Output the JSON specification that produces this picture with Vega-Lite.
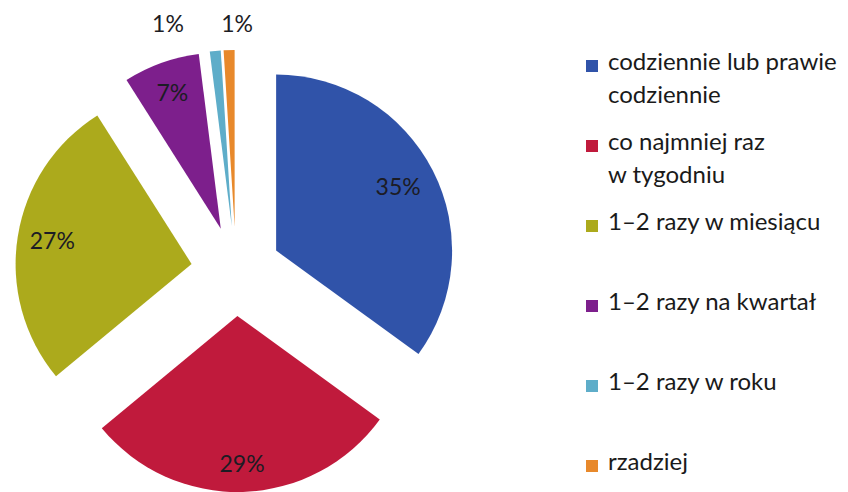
{
  "$schema": "https://vega.github.io/schema/vega-lite/v6.json",
  "width": 400,
  "height": 438,
  "autosize": {"type": "none"},
  "padding": {"left": 36, "top": 52, "right": 412, "bottom": 2},
  "background": "#ffffff",
  "config": {"view": {"stroke": null}, "font": "Lato"},
  "data": {
    "values": [
      {"order": 1, "cat": "codziennie lub prawie codziennie", "share": 0.35},
      {"order": 2, "cat": "co najmniej raz w tygodniu", "share": 0.29},
      {"order": 3, "cat": "1–2 razy w miesiącu", "share": 0.27},
      {"order": 4, "cat": "1–2 razy na kwartał", "share": 0.07},
      {"order": 5, "cat": "1–2 razy w roku", "share": 0.01},
      {"order": 6, "cat": "rzadziej", "share": 0.01}
    ]
  },
  "encoding": {
    "theta": {"field": "share", "type": "quantitative", "stack": true},
    "order": {"field": "order", "type": "quantitative"},
    "color": {
      "field": "cat",
      "type": "nominal",
      "scale": {
        "domain": ["codziennie lub prawie codziennie", "co najmniej raz w tygodniu", "1–2 razy w miesiącu", "1–2 razy na kwartał", "1–2 razy w roku", "rzadziej"],
        "range": ["#3053A9", "#C01A3C", "#ACAA1C", "#7D1F8C", "#5EADC9", "#E8892B"]
      },
      "legend": {
        "title": null,
        "orient": "right",
        "offset": 142,
        "padding": 2,
        "symbolType": "square",
        "symbolSize": 144,
        "symbolStrokeWidth": 0,
        "symbolOpacity": 1,
        "labelFont": "Lato",
        "labelFontSize": 24,
        "labelColor": "#1a1a1a",
        "labelOffset": 4,
        "labelLimit": 400,
        "labelBaseline": "top",
        "gridAlign": "all",
        "rowPadding": 23,
        "labelExpr": "datum.label == 'codziennie lub prawie codziennie' ? ['codziennie lub prawie', 'codziennie'] : datum.label == 'co najmniej raz w tygodniu' ? ['co najmniej raz', 'w tygodniu'] : datum.label",
        "encode": {"labels": {"update": {"lineHeight": {"value": 33}, "dy": {"value": -15}}}}
      }
    }
  },
  "layer": [
    {
      "layer": [
        {"mark": {"type": "arc", "outerRadius": 176, "xOffset": 40.1, "yOffset": -20.4},
         "encoding": {"opacity": {"condition": {"test": "datum.order == 1", "value": 1}, "value": 0}}},
        {"mark": {"type": "text", "radius": 137, "xOffset": 40.1, "yOffset": -20.4, "fontSize": 23, "font": "Lato"},
         "encoding": {"text": {"field": "share", "type": "quantitative", "format": ".0%"}, "color": {"value": "#1c1c24"},
           "opacity": {"condition": {"test": "datum.order == 1", "value": 1}, "value": 0}}}
      ]
    },
    {
      "layer": [
        {"mark": {"type": "arc", "outerRadius": 176, "xOffset": 1.4, "yOffset": 45.0},
         "encoding": {"opacity": {"condition": {"test": "datum.order == 2", "value": 1}, "value": 0}}},
        {"mark": {"type": "text", "radius": 149, "xOffset": 1.4, "yOffset": 45.0, "fontSize": 23, "font": "Lato"},
         "encoding": {"text": {"field": "share", "type": "quantitative", "format": ".0%"}, "color": {"value": "#1c1c24"},
           "opacity": {"condition": {"test": "datum.order == 2", "value": 1}, "value": 0}}}
      ]
    },
    {
      "layer": [
        {"mark": {"type": "arc", "outerRadius": 176, "xOffset": -44.4, "yOffset": -7.0},
         "encoding": {"opacity": {"condition": {"test": "datum.order == 3", "value": 1}, "value": 0}}},
        {"mark": {"type": "text", "radius": 141, "xOffset": -44.4, "yOffset": -7.0, "fontSize": 23, "font": "Lato"},
         "encoding": {"text": {"field": "share", "type": "quantitative", "format": ".0%"}, "color": {"value": "#1c1c24"},
           "opacity": {"condition": {"test": "datum.order == 3", "value": 1}, "value": 0}}}
      ]
    },
    {
      "layer": [
        {"mark": {"type": "arc", "outerRadius": 176, "xOffset": -15.2, "yOffset": -42.3},
         "encoding": {"opacity": {"condition": {"test": "datum.order == 4", "value": 1}, "value": 0}}},
        {"mark": {"type": "text", "radius": 143, "xOffset": -15.2, "yOffset": -42.3, "fontSize": 23, "font": "Lato"},
         "encoding": {"text": {"field": "share", "type": "quantitative", "format": ".0%"}, "color": {"value": "#1c1c24"},
           "opacity": {"condition": {"test": "datum.order == 4", "value": 1}, "value": 0}}}
      ]
    },
    {
      "layer": [
        {"mark": {"type": "arc", "outerRadius": 176, "xOffset": -4.2, "yOffset": -44.8},
         "encoding": {"opacity": {"condition": {"test": "datum.order == 5", "value": 1}, "value": 0}}},
        {"mark": {"type": "text", "radius": 211, "thetaOffset": -0.213, "xOffset": -4.2, "yOffset": -44.8, "fontSize": 23, "font": "Lato"},
         "encoding": {"text": {"field": "share", "type": "quantitative", "format": ".0%"}, "color": {"value": "#1c1c24"},
           "opacity": {"condition": {"test": "datum.order == 5", "value": 1}, "value": 0}}}
      ]
    },
    {
      "layer": [
        {"mark": {"type": "arc", "outerRadius": 176, "xOffset": -1.4, "yOffset": -45.0},
         "encoding": {"opacity": {"condition": {"test": "datum.order == 6", "value": 1}, "value": 0}}},
        {"mark": {"type": "text", "radius": 201, "thetaOffset": 0.044, "xOffset": -1.4, "yOffset": -45.0, "fontSize": 23, "font": "Lato"},
         "encoding": {"text": {"field": "share", "type": "quantitative", "format": ".0%"}, "color": {"value": "#1c1c24"},
           "opacity": {"condition": {"test": "datum.order == 6", "value": 1}, "value": 0}}}
      ]
    }
  ]
}
